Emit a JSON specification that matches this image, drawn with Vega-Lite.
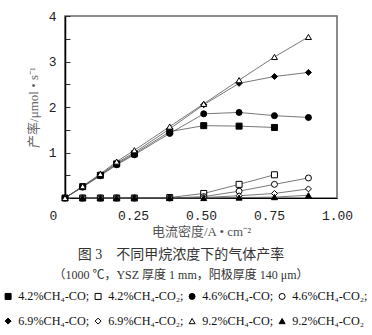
{
  "$schema": "https://vega.github.io/schema/vega-lite/v6.json",
  "width": 272,
  "height": 182,
  "autosize": {"type": "none"},
  "padding": {"left": 65, "top": 16, "right": 35, "bottom": 137},
  "background": "white",
  "config": {
    "view": {"stroke": "#666", "strokeWidth": 1.5},
    "font": "Liberation Serif",
    "legend": {"gridAlign": "each"}
  },
  "title": {
    "text": "图 3　不同甲烷浓度下的气体产率",
    "subtitle": "（1000 ℃，YSZ 厚度 1 mm，阳极厚度 140 μm）",
    "orient": "bottom",
    "anchor": "middle",
    "frame": "group",
    "dx": -20,
    "offset": -80,
    "font": "Liberation Serif, Noto Sans CJK SC",
    "fontSize": 14,
    "fontWeight": "normal",
    "color": "#333",
    "subtitleFont": "Liberation Serif, Noto Sans CJK SC",
    "subtitleFontSize": 12,
    "subtitleColor": "#333",
    "subtitlePadding": 8
  },
  "data": {
    "values": [
      {"series": "4.2%CH₄-CO₂", "j": 0.065, "rate": 0},
      {"series": "4.2%CH₄-CO₂", "j": 0.13, "rate": 0},
      {"series": "4.2%CH₄-CO₂", "j": 0.19, "rate": 0},
      {"series": "4.2%CH₄-CO₂", "j": 0.255, "rate": 0},
      {"series": "4.2%CH₄-CO₂", "j": 0.385, "rate": 0.01},
      {"series": "4.2%CH₄-CO₂", "j": 0.51, "rate": 0.1},
      {"series": "4.2%CH₄-CO₂", "j": 0.64, "rate": 0.3},
      {"series": "4.2%CH₄-CO₂", "j": 0.77, "rate": 0.51},
      {"series": "4.6%CH₄-CO₂", "j": 0.065, "rate": 0},
      {"series": "4.6%CH₄-CO₂", "j": 0.13, "rate": 0},
      {"series": "4.6%CH₄-CO₂", "j": 0.19, "rate": 0},
      {"series": "4.6%CH₄-CO₂", "j": 0.255, "rate": 0},
      {"series": "4.6%CH₄-CO₂", "j": 0.385, "rate": 0},
      {"series": "4.6%CH₄-CO₂", "j": 0.51, "rate": 0.03},
      {"series": "4.6%CH₄-CO₂", "j": 0.64, "rate": 0.15},
      {"series": "4.6%CH₄-CO₂", "j": 0.77, "rate": 0.3},
      {"series": "4.6%CH₄-CO₂", "j": 0.895, "rate": 0.44},
      {"series": "6.9%CH₄-CO₂", "j": 0.065, "rate": 0},
      {"series": "6.9%CH₄-CO₂", "j": 0.13, "rate": 0},
      {"series": "6.9%CH₄-CO₂", "j": 0.19, "rate": 0},
      {"series": "6.9%CH₄-CO₂", "j": 0.255, "rate": 0},
      {"series": "6.9%CH₄-CO₂", "j": 0.385, "rate": 0},
      {"series": "6.9%CH₄-CO₂", "j": 0.51, "rate": 0.01},
      {"series": "6.9%CH₄-CO₂", "j": 0.64, "rate": 0.05},
      {"series": "6.9%CH₄-CO₂", "j": 0.77, "rate": 0.1},
      {"series": "6.9%CH₄-CO₂", "j": 0.895, "rate": 0.2},
      {"series": "9.2%CH₄-CO₂", "j": 0.065, "rate": 0},
      {"series": "9.2%CH₄-CO₂", "j": 0.13, "rate": 0},
      {"series": "9.2%CH₄-CO₂", "j": 0.19, "rate": 0},
      {"series": "9.2%CH₄-CO₂", "j": 0.255, "rate": 0.01},
      {"series": "9.2%CH₄-CO₂", "j": 0.385, "rate": 0},
      {"series": "9.2%CH₄-CO₂", "j": 0.51, "rate": 0},
      {"series": "9.2%CH₄-CO₂", "j": 0.64, "rate": 0.01},
      {"series": "9.2%CH₄-CO₂", "j": 0.77, "rate": 0.02},
      {"series": "9.2%CH₄-CO₂", "j": 0.895, "rate": 0.06},
      {"series": "4.2%CH₄-CO", "j": 0, "rate": 0},
      {"series": "4.2%CH₄-CO", "j": 0.065, "rate": 0.25},
      {"series": "4.2%CH₄-CO", "j": 0.13, "rate": 0.5},
      {"series": "4.2%CH₄-CO", "j": 0.19, "rate": 0.75},
      {"series": "4.2%CH₄-CO", "j": 0.255, "rate": 0.97},
      {"series": "4.2%CH₄-CO", "j": 0.385, "rate": 1.46},
      {"series": "4.2%CH₄-CO", "j": 0.51, "rate": 1.59},
      {"series": "4.2%CH₄-CO", "j": 0.64, "rate": 1.58},
      {"series": "4.2%CH₄-CO", "j": 0.77, "rate": 1.55},
      {"series": "4.6%CH₄-CO", "j": 0, "rate": 0},
      {"series": "4.6%CH₄-CO", "j": 0.065, "rate": 0.24},
      {"series": "4.6%CH₄-CO", "j": 0.13, "rate": 0.49},
      {"series": "4.6%CH₄-CO", "j": 0.19, "rate": 0.73},
      {"series": "4.6%CH₄-CO", "j": 0.255, "rate": 0.95},
      {"series": "4.6%CH₄-CO", "j": 0.385, "rate": 1.42},
      {"series": "4.6%CH₄-CO", "j": 0.51, "rate": 1.85},
      {"series": "4.6%CH₄-CO", "j": 0.64, "rate": 1.88},
      {"series": "4.6%CH₄-CO", "j": 0.77, "rate": 1.81},
      {"series": "4.6%CH₄-CO", "j": 0.895, "rate": 1.77},
      {"series": "6.9%CH₄-CO", "j": 0, "rate": 0},
      {"series": "6.9%CH₄-CO", "j": 0.065, "rate": 0.25},
      {"series": "6.9%CH₄-CO", "j": 0.13, "rate": 0.51},
      {"series": "6.9%CH₄-CO", "j": 0.19, "rate": 0.77},
      {"series": "6.9%CH₄-CO", "j": 0.255, "rate": 1.0},
      {"series": "6.9%CH₄-CO", "j": 0.385, "rate": 1.52},
      {"series": "6.9%CH₄-CO", "j": 0.51, "rate": 2.05},
      {"series": "6.9%CH₄-CO", "j": 0.64, "rate": 2.52},
      {"series": "6.9%CH₄-CO", "j": 0.77, "rate": 2.67},
      {"series": "6.9%CH₄-CO", "j": 0.895, "rate": 2.76},
      {"series": "9.2%CH₄-CO", "j": 0, "rate": 0},
      {"series": "9.2%CH₄-CO", "j": 0.065, "rate": 0.26},
      {"series": "9.2%CH₄-CO", "j": 0.13, "rate": 0.53},
      {"series": "9.2%CH₄-CO", "j": 0.19, "rate": 0.8},
      {"series": "9.2%CH₄-CO", "j": 0.255, "rate": 1.05},
      {"series": "9.2%CH₄-CO", "j": 0.385, "rate": 1.57},
      {"series": "9.2%CH₄-CO", "j": 0.51, "rate": 2.07},
      {"series": "9.2%CH₄-CO", "j": 0.64, "rate": 2.59},
      {"series": "9.2%CH₄-CO", "j": 0.77, "rate": 3.1},
      {"series": "9.2%CH₄-CO", "j": 0.895, "rate": 3.54}
    ]
  },
  "encoding": {
    "x": {
      "field": "j",
      "type": "quantitative",
      "scale": {"domain": [0, 1], "nice": false},
      "axis": {
        "values": [0, 0.25, 0.5, 0.75, 1],
        "labelExpr": "datum.value == 0 ? '0' : format(datum.value, '.2f')",
        "labelOffset": {"condition": {"test": "datum.value == 0", "value": -12}, "value": 0},
        "labelFlush": false,
        "ticks": false,
        "grid": false,
        "domainColor": "black",
        "domainWidth": 1.2,
        "labelFont": "Liberation Mono",
        "labelFontSize": 13,
        "labelColor": "#222",
        "labelPadding": 11,
        "title": "电流密度/A • cm⁻²",
        "titleFont": "Liberation Serif, Noto Sans CJK SC",
        "titleFontSize": 13,
        "titleFontWeight": "normal",
        "titleColor": "#555",
        "titlePadding": 3
      }
    },
    "y": {
      "field": "rate",
      "type": "quantitative",
      "scale": {"domain": [0, 4], "nice": false},
      "axis": {
        "values": [0, 0.5, 1, 1.5, 2, 2.5, 3, 3.5, 4],
        "labelExpr": "datum.value % 1 == 0 && datum.value > 0 ? format(datum.value, 'd') : ''",
        "tickSize": -5,
        "tickColor": "#333",
        "grid": false,
        "domainColor": "black",
        "domainWidth": 1.5,
        "labelFont": "Liberation Mono",
        "labelFontSize": 13,
        "labelColor": "#222",
        "labelPadding": 14,
        "title": "产率/μmol • s⁻¹",
        "titleFont": "Liberation Serif, Noto Sans CJK SC",
        "titleFontSize": 13,
        "titleFontWeight": "normal",
        "titleColor": "#666",
        "titlePadding": 8
      }
    }
  },
  "layer": [
    {
      "mark": {"type": "line", "stroke": "#555", "strokeWidth": 0.8},
      "encoding": {"detail": {"field": "series"}}
    },
    {
      "mark": {"type": "point", "filled": true, "strokeWidth": 1, "opacity": 1},
      "encoding": {
        "fill": {
          "field": "series",
          "type": "nominal",
          "scale": {
            "domain": ["4.2%CH₄-CO", "4.2%CH₄-CO₂", "4.6%CH₄-CO", "4.6%CH₄-CO₂", "6.9%CH₄-CO", "6.9%CH₄-CO₂", "9.2%CH₄-CO", "9.2%CH₄-CO₂"],
            "range": ["black", "white", "black", "white", "black", "white", "white", "black"]
          },
          "legend": {"orient": "none", "legendX": -63, "legendY": 274, "columns": 4, "gridAlign": "each", "title": null, "direction": "horizontal", "labelFont": "Liberation Serif", "labelFontSize": 12.2, "labelColor": "#111", "labelExpr": "datum.label == '9.2%CH₄-CO₂' ? datum.label : datum.label + ';'", "symbolStrokeWidth": 1, "columnPadding": 2, "rowPadding": 12, "labelOffset": 4, "labelLimit": 200}
        },
        "stroke": {
          "field": "series",
          "type": "nominal",
          "scale": {
            "domain": ["4.2%CH₄-CO", "4.2%CH₄-CO₂", "4.6%CH₄-CO", "4.6%CH₄-CO₂", "6.9%CH₄-CO", "6.9%CH₄-CO₂", "9.2%CH₄-CO", "9.2%CH₄-CO₂"],
            "range": ["black", "black", "black", "black", "black", "black", "black", "black"]
          },
          "legend": {"orient": "none", "legendX": -63, "legendY": 274, "columns": 4, "gridAlign": "each", "title": null, "direction": "horizontal", "labelFont": "Liberation Serif", "labelFontSize": 12.2, "labelColor": "#111", "labelExpr": "datum.label == '9.2%CH₄-CO₂' ? datum.label : datum.label + ';'", "symbolStrokeWidth": 1, "columnPadding": 2, "rowPadding": 12, "labelOffset": 4, "labelLimit": 200}
        },
        "shape": {
          "field": "series",
          "type": "nominal",
          "scale": {
            "domain": ["4.2%CH₄-CO", "4.2%CH₄-CO₂", "4.6%CH₄-CO", "4.6%CH₄-CO₂", "6.9%CH₄-CO", "6.9%CH₄-CO₂", "9.2%CH₄-CO", "9.2%CH₄-CO₂"],
            "range": ["square", "square", "circle", "circle", "diamond", "diamond", "triangle-up", "triangle-up"]
          },
          "legend": {"orient": "none", "legendX": -63, "legendY": 274, "columns": 4, "gridAlign": "each", "title": null, "direction": "horizontal", "labelFont": "Liberation Serif", "labelFontSize": 12.2, "labelColor": "#111", "labelExpr": "datum.label == '9.2%CH₄-CO₂' ? datum.label : datum.label + ';'", "symbolStrokeWidth": 1, "columnPadding": 2, "rowPadding": 12, "labelOffset": 4, "labelLimit": 200}
        },
        "size": {
          "field": "series",
          "type": "nominal",
          "scale": {
            "domain": ["4.2%CH₄-CO", "4.2%CH₄-CO₂", "4.6%CH₄-CO", "4.6%CH₄-CO₂", "6.9%CH₄-CO", "6.9%CH₄-CO₂", "9.2%CH₄-CO", "9.2%CH₄-CO₂"],
            "range": [36, 36, 38, 38, 55, 55, 75, 75]
          },
          "legend": {"orient": "none", "legendX": -63, "legendY": 274, "columns": 4, "gridAlign": "each", "title": null, "direction": "horizontal", "labelFont": "Liberation Serif", "labelFontSize": 12.2, "labelColor": "#111", "labelExpr": "datum.label == '9.2%CH₄-CO₂' ? datum.label : datum.label + ';'", "symbolStrokeWidth": 1, "columnPadding": 2, "rowPadding": 12, "labelOffset": 4, "labelLimit": 200}
        }
      }
    }
  ]
}
